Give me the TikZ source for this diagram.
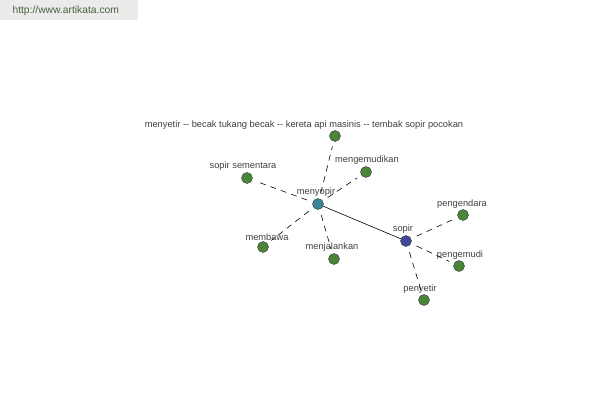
\documentclass[tikz,border=0pt]{standalone}
\usepackage{fontspec}
\setmainfont{Liberation Sans}
\usetikzlibrary{positioning}
\definecolor{katagreen}{RGB}{74, 134, 58}
\definecolor{katateal}{RGB}{58, 134, 150}
\definecolor{katablue}{RGB}{64, 72, 156}
\definecolor{katagray}{RGB}{235, 235, 235}
\definecolor{katatext}{RGB}{70, 100, 60}
\tikzset{
  word/.style={
    circle,
    draw=black!80,
    fill=katagreen,
    minimum size=11pt,
    inner sep=0pt
  },
  hub/.style={
    word,
    fill=katateal
  },
  head/.style={
    word,
    fill=katablue
  },
  tag/.style={
    font=\fontsize{9.3}{11}\selectfont,
    text=black!75,
    inner sep=1pt
  },
  link/.style={
    draw=black,
    line width=0.6pt,
    dash pattern=on 6pt off 5pt,
    shorten <=6pt,
    shorten >=5pt
  },
  strong/.style={
    draw=black,
    line width=0.6pt
  }
}

\begin{document}
\begin{tikzpicture}[x=1pt, y=-1pt]
          \useasboundingbox (0,0) rectangle (600,400);
          \fill[katagray] (0,0) rectangle (138,20);
          \node[text=katatext, font=\fontsize{10.3}{12}\selectfont, anchor=west] (site) at (9,11) {http://www.artikata.com};

          \node[hub] (menyopir) at (318,204) {};
          \node[head] (sopir) at (406,241) {};
          \node[word] (pocokan) at (335,136) {};
          \node[word] (mengemudikan) at (366,172) {};
          \node[word] (sementara) at (247,178) {};
          \node[word] (membawa) at (263,247) {};
          \node[word] (menjalankan) at (334,259) {};
          \node[word] (pengendara) at (463,215) {};
          \node[word] (pengemudi) at (459,266) {};
          \node[word] (penyetir) at (424,300) {};

          % labels
          \node[tag] at (304,125) {menyetir {-}{-} becak tukang becak {-}{-} kereta api masinis {-}{-} tembak sopir pocokan};
          \node[tag] at (367,160) {mengemudikan};
          \node[tag] at (243,166) {sopir sementara};
          \node[tag] at (316,192) {menyopir};
          \node[tag] at (267,237) {membawa};
          \node[tag] at (332,247) {menjalankan};
          \node[tag] at (403,229) {sopir};
          \node[tag] at (462,204) {pengendara};
          \node[tag] at (460,255) {pengemudi};
          \node[tag] at (420,289) {penyetir};

          \path (menyopir) edge[strong] (sopir)
                (menyopir) edge[link] (pocokan)
                (menyopir) edge[link] (mengemudikan)
                (menyopir) edge[link] (sementara)
                (menyopir) edge[link] (membawa)
                (menyopir) edge[link] (menjalankan)
                (sopir) edge[link] (pengendara)
                (sopir) edge[link] (pengemudi)
                (sopir) edge[link] (penyetir);
        \end{tikzpicture}
\end{document}
